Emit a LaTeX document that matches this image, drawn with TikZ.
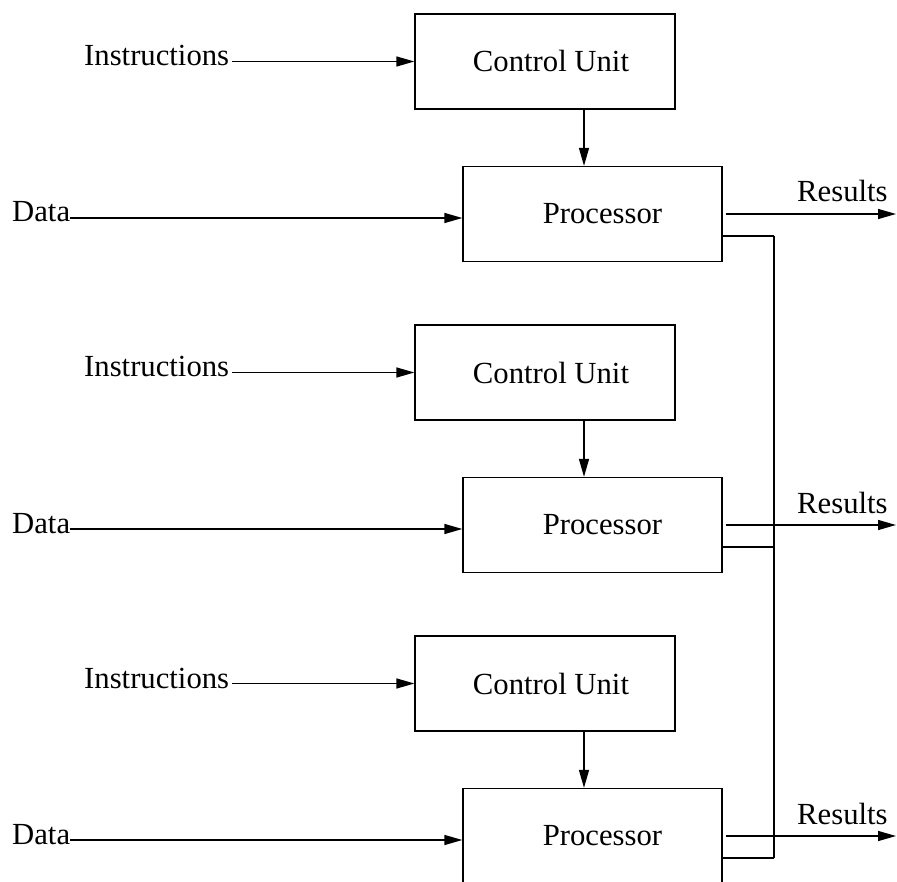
\documentclass[tikz,border=0pt]{standalone}
\usepackage{fontspec}
\setmainfont{Liberation Serif}
\usetikzlibrary{arrows.meta,calc}
\begin{document}
\begin{tikzpicture}[x=1pt,y=-1pt,
  box/.style={draw,line width=1.3pt,minimum width=260pt,minimum height=95pt,inner sep=0pt,font=\fontsize{30.7}{37}\selectfont},
  lbl/.style={inner sep=0pt,font=\fontsize{30.7}{37}\selectfont},
  conn/.style={line width=1.4pt},
  arr/.style={conn,-{Triangle[length=18pt,width=10pt]}},
]
\useasboundingbox (0,0) rectangle (897,882);
\clip (0,0) rectangle (897,882);
\coordinate (vx) at (584,0);
\foreach \i/\dy in {1/0,2/311,3/622} {
  \node[box] (cu\i) at (545,61.5+\dy) {\hspace*{12pt}Control Unit};
  \node[box,minimum width=259pt] (p\i) at (592.5,214+\dy) {\hspace*{20pt}Processor};
  \node[lbl,anchor=base west] (ins\i) at (84,66+\dy) {Instructions};
  \node[lbl,anchor=base west] (dat\i) at (12,222+\dy) {Data};
  \node[lbl,anchor=base west] (res\i) at (797,202+\dy) {Results};
  \coordinate (rend\i) at (896,214+\dy);
  \coordinate (j\i) at (774,236+\dy);
  \draw[arr] ([xshift=3pt]ins\i.east |- cu\i.west) -- (cu\i.west);
  \draw[arr] ([yshift=-4pt]p\i.west -| dat\i.east) -- ([yshift=-4pt]p\i.west);
  \draw[arr] (cu\i.south -| vx) -- (p\i.north -| vx);
  \draw[arr] ([xshift=3pt]p\i.east) -- (rend\i);
  \draw[conn] ([yshift=-22pt]p\i.east) -- (j\i);
}
\draw[conn] (j1) -- (j3);
\end{tikzpicture}
\end{document}
